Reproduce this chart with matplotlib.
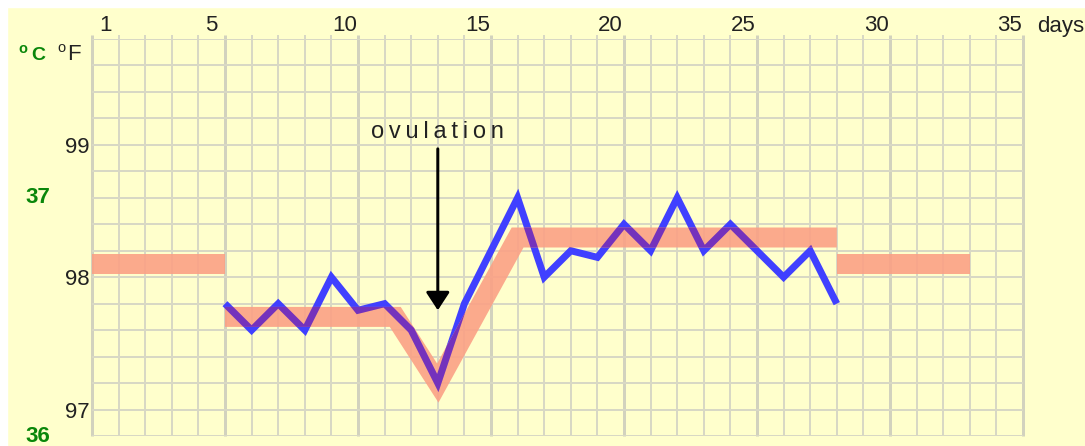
import numpy as np
import matplotlib
matplotlib.use("Agg")
import matplotlib.pyplot as plt
from matplotlib.patches import Polygon, Rectangle
from matplotlib import transforms

plt.rcParams['font.family'] = ['Liberation Sans', 'DejaVu Sans']

# Basal body temperature readings (deg F), placed on the cycle-day grid
reading_pos = [5, 6, 7, 8, 9, 10, 11, 12, 13, 14, 15, 16,
               17, 18, 19, 20, 21, 22, 23, 24, 25, 26, 27, 28]
temps_f = [97.8, 97.6, 97.8, 97.6, 98.0, 97.75, 97.8, 97.6, 97.2, 97.8, 98.2, 98.6,
           98.0, 98.2, 98.15, 98.4, 98.2, 98.6, 98.2, 98.4, 98.2, 98.0, 98.2, 97.8]

# Axis labels
day_labels = [1, 5, 10, 15, 20, 25, 30, 35]
f_ticks = [97, 98, 99]
c_ticks = [36, 37]

# Trend bands (deg F)
pre_band_x = [0, 5]
pre_band_f = [98.1, 98.1]
main_band_x = [5, 11.4, 13, 16, 28]
main_band_f = [97.7, 97.7, 97.2, 98.3, 98.3]
post_band_x = [28, 33]
post_band_f = [98.1, 98.1]

ovulation_pos = 13
ovulation_text = "ovulation"

BG = "#FFFFCC"
GRID = "#D8D8C4"
GRID_DARK = "#D2D2BE"
BAND = "#FBA185"
BLUE = "#4040FF"
PURPLE = "#7432BC"
GREEN = "#0A870A"
TXT = "#222222"

W, H = 1085, 446
PX = 72.0 / 100.0  # points per pixel

fig = plt.figure(figsize=(W / 100, H / 100), dpi=100)
fig.patch.set_facecolor(BG)
ax = fig.add_axes([92 / W, 10 / H, 931 / W, 397 / H])
ax.set_facecolor(BG)
ax.set_xlim(0, 35)
ax.set_ylim(96.8, 99.8)
for s in ax.spines.values():
    s.set_visible(False)

# white margin strips at top and left
fig.patches.append(Rectangle((0, 1 - 7 / H), 1, 7 / H, transform=fig.transFigure,
                             color="white", zorder=0))
fig.patches.append(Rectangle((0, 0), 7 / W, 1, transform=fig.transFigure,
                             color="white", zorder=0))

# grid: one column per day, 0.2 deg F per row
ext = 4 / 397 * 3.0
for x in range(0, 36):
    major = x % 5 == 0
    ax.vlines(x, 96.8, 99.8 + ext, color=GRID_DARK if major else GRID,
              lw=(3 if major else 2) * PX, zorder=1, clip_on=False)
for y in np.linspace(96.8, 99.8, 16):
    ax.hlines(y, 0, 35, color=GRID, lw=2 * PX, zorder=1)


def stroke_outline(xs, ys, half_px):
    """Outline of a thick polyline (miter joins, butt caps) in data coords."""
    p = ax.transData.transform(np.column_stack([xs, ys]))
    d = np.diff(p, axis=0)
    d /= np.hypot(d[:, 0], d[:, 1])[:, None]
    nrm = np.column_stack([-d[:, 1], d[:, 0]])
    offs = [nrm[0]]
    for a, b in zip(nrm[:-1], nrm[1:]):
        offs.append((a + b) / (1 + a @ b))
    offs.append(nrm[-1])
    offs = np.array(offs) * half_px
    ring = np.vstack([p + offs, (p - offs)[::-1]])
    return ax.transData.inverted().transform(ring)


# temperature curve
ax.plot(reading_pos, temps_f, color=BLUE, lw=7 * PX, solid_joinstyle="miter",
        solid_capstyle="butt", zorder=3)

band_patches = []
for bx, bf in [(pre_band_x, pre_band_f), (main_band_x, main_band_f),
               (post_band_x, post_band_f)]:
    poly = Polygon(stroke_outline(bx, bf, 10), closed=True, fc=BAND, ec="none",
                   alpha=0.9, zorder=4)
    ax.add_patch(poly)
    band_patches.append(poly)

# curve tinted where it runs through the main band
tinted, = ax.plot(reading_pos, temps_f, color=PURPLE, lw=7 * PX,
                  solid_joinstyle="miter", solid_capstyle="butt", zorder=5)
tinted.set_clip_path(band_patches[1])

# ovulation marker
ax.annotate("", xy=(ovulation_pos, 97.75), xytext=(ovulation_pos, 98.97),
            arrowprops=dict(arrowstyle="-|>,head_length=1.1,head_width=0.72",
                            mutation_scale=10, color="black", lw=3 * PX,
                            shrinkA=0, shrinkB=0),
            zorder=6)
ax.text(ovulation_pos, 99.1, "\u2009".join(ovulation_text), ha="center", va="center",
        fontsize=17, color=TXT, zorder=6)

# day axis along the top
ax.xaxis.tick_top()
ax.set_xticks([d - 0.5 for d in day_labels])
ax.set_xticklabels([str(d) for d in day_labels])
ax.tick_params(axis="x", length=0, pad=2, labelsize=16, labelcolor=TXT)
ax.text(1.015, 1.0 + 2 / 397, "days", transform=ax.transAxes, ha="left", va="bottom",
        fontsize=16, color=TXT)

# Fahrenheit scale
ax.set_yticks(f_ticks)
ax.set_yticklabels([str(f) for f in f_ticks])
ax.tick_params(axis="y", length=0, pad=2, labelsize=16, labelcolor=TXT)

# Celsius scale
blend = transforms.blended_transform_factory(ax.transAxes, ax.transData)
for c in c_ticks:
    ax.text((38 - 92) / 931, c * 9 / 5 + 32, str(c), transform=blend, ha="center",
            va="center", fontsize=16, fontweight="bold", color=GREEN)


def unit_label(x_o, y_o, x_u, y_u, unit, size_u, color, weight):
    """Raised small 'o' followed by the unit letter, placed in pixel positions."""
    ax.text((x_o - 92) / 931, (436 - y_o) / 397, "o", transform=ax.transAxes,
            ha="center", va="center", fontsize=10.5, fontweight=weight, color=color)
    ax.text((x_u - 92) / 931, (436 - y_u) / 397, unit, transform=ax.transAxes,
            ha="center", va="center", fontsize=size_u, fontweight=weight, color=color)


unit_label(23, 49, 38.5, 55.5, "C", 14, GREEN, "bold")
unit_label(61, 47.5, 74, 55, "F", 16, TXT, "normal")

fig.savefig("out.png", dpi=100, facecolor=fig.get_facecolor())
